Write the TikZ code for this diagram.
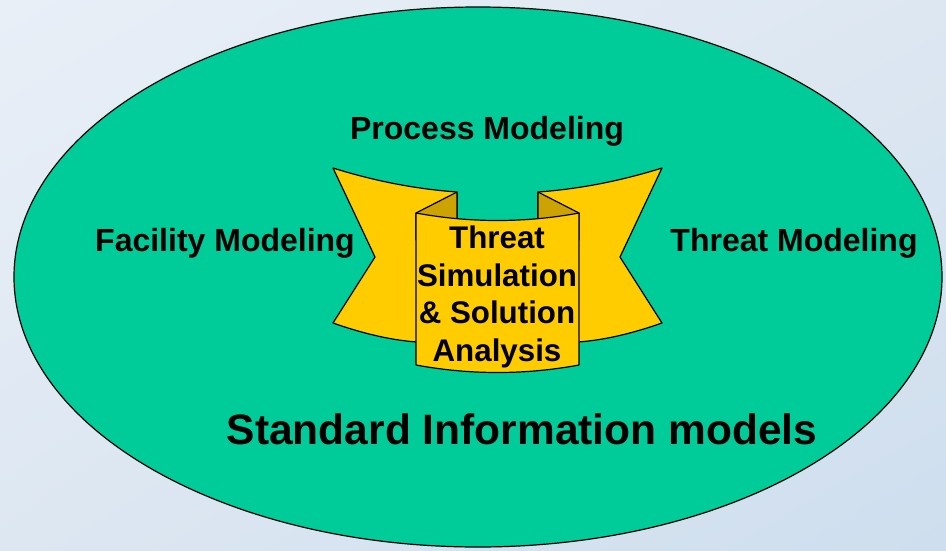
\documentclass[tikz,border=0pt]{standalone}
\usepackage{fontspec}
\setmainfont{Liberation Sans}
\usepackage{tikz}
\usetikzlibrary{shadings}
\definecolor{bgA}{HTML}{E9EFF7}
\definecolor{bgM}{HTML}{DDE7F2}
\definecolor{bgB}{HTML}{CEDEEE}
\definecolor{field}{HTML}{00CC99}
\definecolor{ribbon}{HTML}{FFCC00}
\definecolor{ribbondark}{HTML}{CCA300}
\tikzstyle{outline} = [draw=black, line width=1.2pt, line join=round]
\tikzstyle{wing} = [outline, fill=ribbon]
\tikzstyle{fold} = [outline, fill=ribbondark]
\tikzstyle{coretext} = [font=\bfseries\fontsize{31.3}{37.5}\selectfont, text=black, align=center, inner sep=0pt]
\tikzstyle{modeltext} = [font=\bfseries\fontsize{32}{38}\selectfont, text=black, inner sep=0pt]
\tikzstyle{bigtext} = [font=\bfseries\fontsize{42.5}{50}\selectfont, text=black, inner sep=0pt]

\begin{document}
\begin{tikzpicture}[x=1pt, y=-1pt]
	\shade[upper left=bgA, upper right=bgM, lower left=bgM, lower right=bgB] (0,0) rectangle (946,550);
	\useasboundingbox (0,0) rectangle (946,550);
	% information model field
	\draw[outline, fill=field] (478,277) ellipse [x radius=464, y radius=270];
	% ribbon, left half and mirrored right half
	\foreach \s in {1,-1}{
		\begin{scope}[shift={(497.5,0)}, xscale=\s]
			\draw[wing] (-164.5,168) .. controls (-123,181) and (-82,189) .. (-40.5,192)
				-- (-40.5,345) -- (-80.5,342)
				.. controls (-108,340) and (-136,333) .. (-164.5,323)
				-- (-122.5,257) -- cycle;
			\draw[fold] (-81.5,213) -- (-40.5,192) -- (-40.5,240) -- (-81.5,240) -- cycle;
		\end{scope}
	}
	\draw[wing] (416,213) .. controls (470,223) and (525,223) .. (579,213)
		-- (579,365) .. controls (525,375) and (470,375) .. (416,365) -- cycle;
	% texts
	\node (core) [coretext] at (497,297) {Threat\\Simulation\\\& Solution\\Analysis};
	\node (process) [modeltext] at (487,131) {Process Modeling};
	\node (facility) [modeltext] at (225,243) {Facility Modeling};
	\node (threat) [modeltext] at (794,243) {Threat Modeling};
	\node (standard) [bigtext] at (522,429) {Standard Information models};
\end{tikzpicture}
\end{document}
